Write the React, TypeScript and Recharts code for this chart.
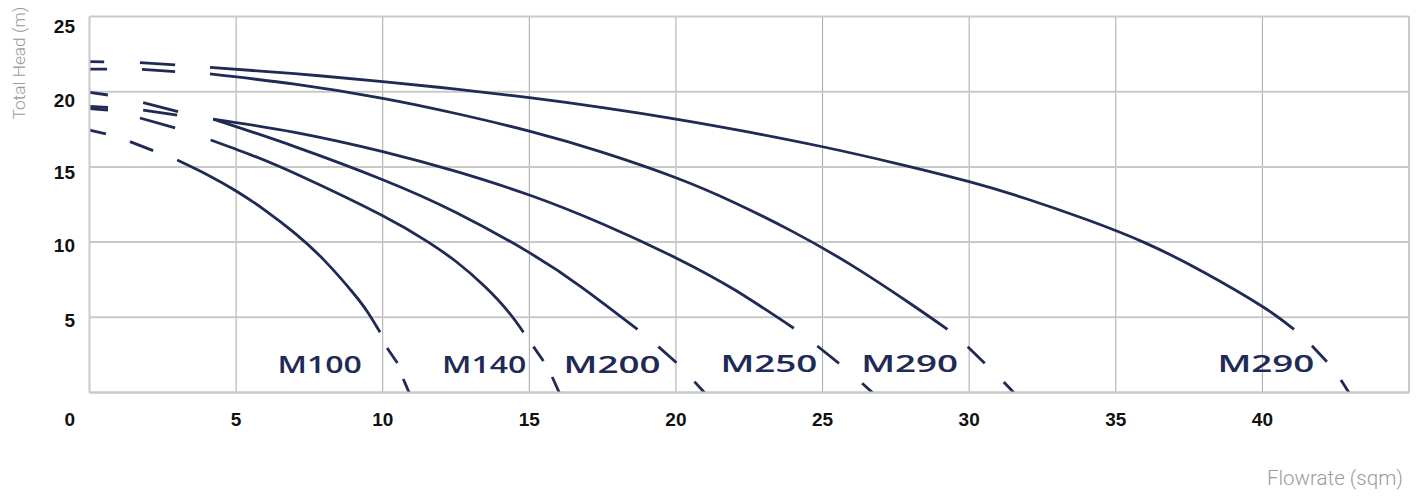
import React from 'react';
import { LineChart, Line, XAxis, YAxis, CartesianGrid, ReferenceLine, ReferenceDot } from 'recharts';

// ---------- data ----------
const xTicks = [0, 5, 10, 15, 20, 25, 30, 35, 40, 45];
const yTicks = [0, 5, 10, 15, 20, 25];

const modelNames = ['M100', 'M140', 'M200', 'M250', 'M290', 'M290'];
const labelFlow = [7.85, 13.46, 17.82, 23.17, 27.97, 40.12];
const labelHead = [1.3, 1.3, 1.3, 1.33, 1.33, 1.33];

// each curve = drawn pieces [flow, head]: two lead-in dashes, solid body, two tail dashes
const m100: [number, number][][] = [
  [[0, 17.45], [0.56, 17.19]],
  [[1.38, 16.68], [2.17, 16.08]],
  [[2.99, 15.46], [4, 14.5], [5, 13.4], [6, 12.1], [7, 10.6], [8, 8.8], [9, 6.6], [9.5, 5.3], [9.91, 4.0]],
  [[10.15, 2.96], [10.5, 1.96]],
  [[10.7, 0.9], [10.9, 0]],
];
const m140: [number, number][][] = [
  [[0, 18.88], [0.63, 18.78]],
  [[1.72, 18.25], [2.92, 17.59]],
  [[4.13, 16.79], [5.5, 15.8], [7.2, 14.39], [10, 11.75], [11.5, 10.06], [12.5, 8.71], [13.5, 7.01], [14.3, 5.33], [14.8, 4.0]],
  [[15.14, 3.05], [15.48, 2.09]],
  [[15.78, 1.03], [16.02, 0]],
];
const m200: [number, number][][] = [
  [[0, 19.95], [0.63, 19.78]],
  [[1.83, 19.27], [3.02, 18.67]],
  [[4.22, 18.18], [7, 16.35], [10, 14.15], [12.5, 11.97], [15, 9.3], [16.8, 6.98], [18.69, 4.2]],
  [[19.4, 3.05], [20.02, 1.98]],
  [[20.63, 0.72], [20.97, 0]],
];
const m250: [number, number][][] = [
  [[0, 19.02], [0.63, 18.95]],
  [[1.83, 18.78], [2.99, 18.45]],
  [[4.22, 18.18], [7, 17.3], [10, 16.02], [12.5, 14.7], [15, 13.13], [17.5, 11.2], [20, 8.95], [22, 6.83], [24.02, 4.27]],
  [[24.82, 3.09], [25.56, 1.94]],
  [[26.35, 0.61], [26.7, 0]],
];
const m290: [number, number][][] = [
  [[0, 21.5], [0.6, 21.5]],
  [[1.79, 21.49], [2.92, 21.33]],
  [[4.11, 21.18], [7, 20.5], [10, 19.56], [12.5, 18.55], [15, 17.38], [17.5, 15.97], [20, 14.28], [22, 12.62], [24, 10.68], [26, 8.45], [28, 5.9], [29.26, 4.2]],
  [[29.95, 3.05], [30.53, 1.94]],
  [[31.18, 0.7], [31.52, 0]],
];
const m290b: [number, number][][] = [
  [[0, 22.0], [0.5, 21.98]],
  [[1.72, 21.93], [2.92, 21.78]],
  [[4.11, 21.62], [7, 21.2], [10, 20.67], [12.5, 20.17], [15, 19.6], [17.5, 18.94], [20, 18.18], [22.5, 17.31], [25, 16.34], [27.5, 15.24], [30, 14.02], [32, 12.85], [34, 11.5], [36, 9.95], [38, 8.0], [40, 5.72], [41.08, 4.2]],
  [[41.69, 3.11], [42.2, 2.05]],
  [[42.68, 0.83], [42.95, 0]],
];
const curves = [m100, m140, m200, m250, m290, m290b];

// ---------- style ----------
const NAVY = '#1f2a56';
const TICK_FONT = '"Liberation Sans", Arial, sans-serif';
const TITLE_FONT = 'Roboto, "Noto Sans", sans-serif';
const LABEL_FONT = '"Open Sans", "DejaVu Sans", sans-serif';
const yNudge: Record<number, number> = { 25: 9.5, 20: 8, 15: 5.5, 10: 3, 5: 2.5 };
const glyphW: Record<string, number> = { M: 27, '1': 10.7 };
const labelWidth = (s: string) => s.split('').reduce((a, c) => a + (glyphW[c] ?? 23.3), 0);

const XTick = (props: any) => {
  const { x, y, payload } = props;
  const v = payload.value;
  if (v === 45) return <g />;
  const corner = v === 0;
  return (
    <text
      x={corner ? x - 14.5 : x}
      y={y + 33.3}
      textAnchor={corner ? 'end' : 'middle'}
      fontFamily={TICK_FONT}
      fontWeight={700}
      fontSize={19}
      fill="#111"
    >
      {v}
    </text>
  );
};

const YTick = (props: any) => {
  const { x, y, payload } = props;
  const v = payload.value;
  if (v === 0) return <g />;
  return (
    <text x={x} y={y + (yNudge[v] ?? 0) + 6.8} textAnchor="end" fontFamily={TICK_FONT} fontWeight={700} fontSize={19} fill="#111">
      {v}
    </text>
  );
};

const XTitle = (props: any) => {
  const vb = props.viewBox;
  return (
    <text x={vb.x + vb.width - 6} y={vb.y + 92.5} textAnchor="end" fontFamily={TITLE_FONT} fontWeight={300} fontSize={20.5} fill="#9a9a9a">
      Flowrate (sqm)
    </text>
  );
};

const YTitle = (props: any) => {
  const vb = props.viewBox;
  const tx = vb.x + 5.5;
  const ty = vb.y + 46.5;
  return (
    <text x={tx} y={ty} transform={`rotate(-90 ${tx} ${ty})`} textAnchor="middle" fontFamily={TITLE_FONT} fontWeight={300} fontSize={17.3} fill="#9a9a9a">
      Total Head (m)
    </text>
  );
};

export default function App() {
  const lines: React.ReactNode[] = [];
  curves.forEach((pieces, ci) => {
    pieces.forEach((piece, pi) => {
      const data = piece.map(([x, y]) => ({ x, y }));
      lines.push(
        <Line
          key={`c${ci}p${pi}`}
          name={`${modelNames[ci]}-${pi}`}
          data={data}
          dataKey="y"
          type={piece.length > 2 ? 'natural' : 'linear'}
          stroke={NAVY}
          strokeWidth={2.8}
          dot={false}
          activeDot={false}
          isAnimationActive={false}
        />
      );
    });
  });

  return (
    <div style={{ width: 1406, height: 488 }}>
      <LineChart width={1406} height={488} margin={{ top: 8.5, right: 5, bottom: 63.5, left: 11.5 }}>
        <CartesianGrid horizontal={false} stroke="#a8a8a8" strokeWidth={1} />
        <CartesianGrid vertical={false} stroke="#c9c9c9" strokeWidth={2} />
        <XAxis
          type="number"
          dataKey="x"
          domain={[0, 45]}
          ticks={xTicks}
          interval={0}
          height={40}
          allowDataOverflow
          tick={<XTick />}
          tickLine={false}
          tickSize={0}
          tickMargin={0}
          axisLine={{ stroke: '#c9c9c9', strokeWidth: 2 }}
          label={{ content: XTitle } as any}
        />
        <YAxis
          type="number"
          domain={[0, 25]}
          ticks={yTicks}
          interval={0}
          width={70}
          allowDataOverflow
          tick={<YTick />}
          tickLine={false}
          tickSize={0}
          tickMargin={14.5}
          axisLine={{ stroke: '#c9c9c9', strokeWidth: 2 }}
          label={{ content: YTitle } as any}
        />
        <ReferenceLine x={45} stroke="#c9c9c9" strokeWidth={2} />
        {lines}
        {modelNames.map((name, i) => (
          <ReferenceDot
            key={`lbl${i}`}
            x={labelFlow[i]}
            y={labelHead[i]}
            r={0}
            shape={(p: any) => (
              <text
                x={p.cx}
                y={p.cy}
                textAnchor="middle"
                textLength={labelWidth(name)}
                lengthAdjust="spacingAndGlyphs"
                fontFamily={LABEL_FONT}
                fontWeight={600}
                fontSize={24}
                fill={NAVY}
              >
                {name}
              </text>
            )}
          />
        ))}
      </LineChart>
    </div>
  );
}
